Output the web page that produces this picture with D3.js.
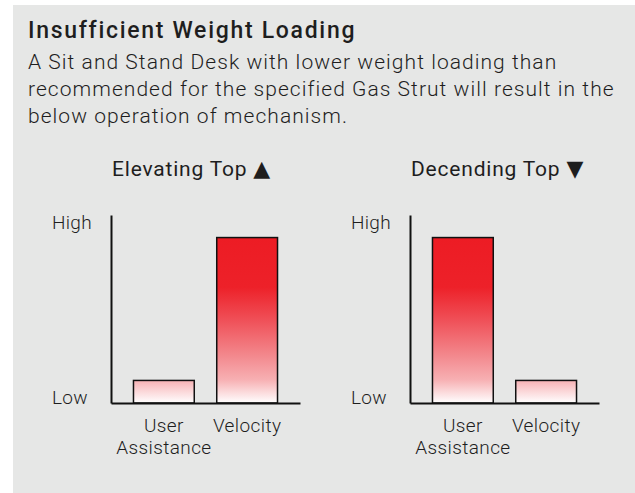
<!DOCTYPE html>
<html>
<head>
<meta charset="utf-8">
<script src="https://cdn.jsdelivr.net/npm/d3@7"></script>
<style>
  html, body { margin: 0; background: #fff; overflow: hidden; }
  svg { display: block; }
  svg text { font-family: Roboto, "Noto Sans", sans-serif; fill: #1e1e1e; }
</style>
</head>
<body>
<div id="chart"></div>
<script>
// data (Low..High is a qualitative 0-10 scale)
var headline = "Insufficient Weight Loading";
var bodyLines = [
  "A Sit and Stand Desk with lower weight loading than",
  "recommended for the specified Gas Strut will result in the",
  "below operation of mechanism."
];
var categories = ["User Assistance", "Velocity"];
var panelTitles = ["Elevating Top", "Decending Top"];
var panelMarks = ["\u25B2", "\u25BC"];
var elevatingValues = [1.2, 8.8];
var descendingValues = [8.8, 1.2];
var levelLabels = ["Low", "High"];
var levelValues = [0.3, 9.6];

var W = 635, H = 493;

var svg = d3.select("#chart").append("svg")
  .attr("width", W)
  .attr("height", H);

// grey card
svg.append("rect")
  .attr("x", 13).attr("y", 5)
  .attr("width", W - 13).attr("height", H - 5)
  .attr("fill", "#e6e7e6");

// gradient, in user space so short bars only get the pale end
var yScale = d3.scaleLinear().domain([0, 10]).range([403, 215]);
var defs = svg.append("defs");
var grad = defs.append("linearGradient")
  .attr("id", "barGrad")
  .attr("gradientUnits", "userSpaceOnUse")
  .attr("x1", 0).attr("x2", 0)
  .attr("y1", yScale(d3.max(elevatingValues)))
  .attr("y2", yScale(0));
[[0, "#ed1c24"], [0.3, "#ed2129"], [0.48, "#ef4b53"], [0.72, "#f38a8f"], [0.86, "#f7b0b3"], [1, "#ffffff"]]
  .forEach(function(s){
    grad.append("stop").attr("offset", s[0]).attr("stop-color", s[1]);
  });

// header
svg.append("text")
  .attr("x", 28).attr("y", 38)
  .attr("font-size", 23)
  .attr("font-weight", 500)
  .attr("letter-spacing", 1.7)
  .text(headline);

svg.append("g").selectAll("text")
  .data(bodyLines)
  .enter().append("text")
  .attr("x", 28)
  .attr("y", function(d, i){ return 69 + i * 27; })
  .attr("font-size", 21)
  .attr("font-weight", 300)
  .attr("letter-spacing", 1.05)
  .text(function(d){ return d; });

// one small bar chart
function drawPanel(left, k, values){
  var g = svg.append("g").attr("transform", "translate(" + left + ",0)");

  var xScale = d3.scaleBand()
    .domain(categories)
    .range([0, 189])
    .paddingInner(0.27)
    .paddingOuter(0.27);

  var title = g.append("text")
    .attr("x", 1).attr("y", 176)
    .attr("font-size", 21)
    .attr("letter-spacing", 0.8);
  title.append("tspan").text(panelTitles[k] + " ");
  title.append("tspan")
    .attr("font-family", "DejaVu Sans")
    .attr("font-size", 22)
    .attr("letter-spacing", 0)
    .text(panelMarks[k]);

  // bars
  g.selectAll(".bar")
    .data(values)
    .enter().append("rect")
    .attr("class", "bar")
    .attr("x", function(d, i){ return xScale(categories[i]); })
    .attr("y", function(d){ return yScale(d); })
    .attr("width", xScale.bandwidth())
    .attr("height", function(d){ return yScale(0) - yScale(d); })
    .attr("fill", "url(#barGrad)")
    .attr("stroke", "#111")
    .attr("stroke-width", 1.5);

  // y axis
  var yAxis = g.append("g")
    .call(d3.axisLeft(yScale)
      .tickValues(levelValues)
      .tickFormat(function(d, i){ return levelLabels[i]; })
      .tickSize(0)
      .tickSizeOuter(0));
  yAxis.select(".domain").attr("stroke", "#111").attr("stroke-width", 2);
  yAxis.selectAll("text")
    .attr("x", -59)
    .attr("text-anchor", "start")
    .attr("font-size", 19)
    .attr("font-weight", 300)
    .attr("letter-spacing", 0.3)
    .attr("font-family", null)
    .attr("fill", null);

  // x axis
  var xAxis = g.append("g")
    .attr("transform", "translate(0," + yScale(0) + ")")
    .call(d3.axisBottom(xScale).tickSize(0).tickSizeOuter(0));
  xAxis.select(".domain").attr("stroke", "#111").attr("stroke-width", 2);
  xAxis.selectAll("text")
    .attr("font-size", 19)
    .attr("font-weight", 300)
    .attr("letter-spacing", 0.4)
    .attr("font-family", null)
    .attr("fill", null)
    .attr("y", 0)
    .attr("dy", null)
    .each(function(d){
      var t = d3.select(this);
      var words = d.split(" ");
      t.text(null);
      words.forEach(function(w, i){
        t.append("tspan")
          .attr("x", 0)
          .attr("y", 29 + i * 22)
          .text(w);
      });
    });
  yAxis.attr("font-family", null).attr("font-size", null);
  xAxis.attr("font-family", null).attr("font-size", null);
}

drawPanel(111, 0, elevatingValues);
drawPanel(410, 1, descendingValues);
</script>
</body>
</html>
